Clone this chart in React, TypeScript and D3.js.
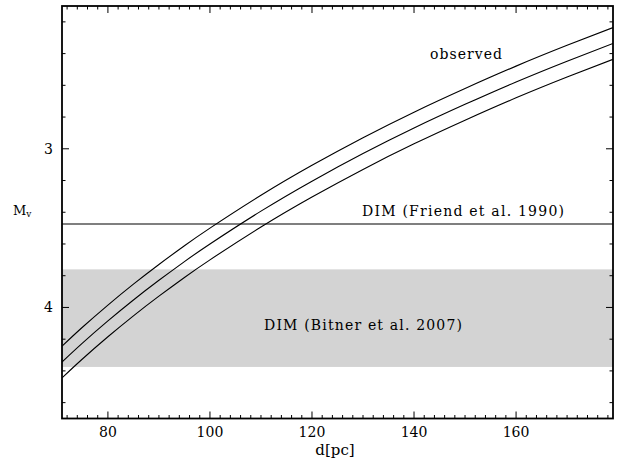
import React from "react";
import * as d3 from "d3";

const distances = [71, 75, 80, 85, 90, 95, 100, 110, 120, 130, 140, 150, 160, 170, 179];
const curveUpper = [4.244, 4.125, 3.985, 3.853, 3.729, 3.611, 3.5, 3.293, 3.104, 2.93, 2.769, 2.62, 2.479, 2.348, 2.236];
const curveMiddle = [4.344, 4.225, 4.085, 3.953, 3.829, 3.711, 3.6, 3.393, 3.204, 3.03, 2.869, 2.72, 2.579, 2.448, 2.336];
const curveLower = [4.444, 4.325, 4.185, 4.053, 3.929, 3.811, 3.7, 3.493, 3.304, 3.13, 2.969, 2.82, 2.679, 2.548, 2.436];
const friendLevel = 3.474;
const bitnerBand = [3.76, 4.375];
const xMajorTicks = [80, 100, 120, 140, 160];
const yMajorTicks = [3, 4];

const W = 627;
const H = 461;
const L = 62, R = 613, T = 6, B = 418.5;

export default function App() {
  const x = d3.scaleLinear().domain([71, 179]).range([L, R]);
  const y = d3.scaleLinear().domain([2.1, 4.7]).range([T, B]);
  const line = d3
    .line<number>()
    .x((_, i) => x(distances[i]))
    .y((v) => y(v))
    .curve(d3.curveNatural);

  const xMinor = d3.range(72, 179.01, 2).filter((v) => !xMajorTicks.includes(v));
  const yMinor = d3.range(22, 47, 2).map((v) => v / 10).filter((v) => !yMajorTicks.includes(v));
  const font = "'DejaVu Serif', 'Liberation Serif', serif";

  return (
    <svg width={W} height={H} style={{ position: "absolute", left: 0, top: 0, background: "#fff" }} fontFamily={font}>
      <defs>
        <clipPath id="plot">
          <rect x={L} y={T} width={R - L} height={B - T} />
        </clipPath>
      </defs>
      <rect x={L} y={y(bitnerBand[0])} width={R - L} height={y(bitnerBand[1]) - y(bitnerBand[0])} fill="#d3d3d3" />
      <line x1={L} x2={R} y1={y(friendLevel)} y2={y(friendLevel)} stroke="#000" strokeWidth={1.1} />
      <g clipPath="url(#plot)">
        {[curveUpper, curveMiddle, curveLower].map((c, i) => (
          <path key={i} d={line(c) || ""} fill="none" stroke="#000" strokeWidth={1.1} />
        ))}
      </g>
      {xMajorTicks.map((v) => (
        <g key={"xm" + v}>
          <line x1={x(v)} x2={x(v)} y1={B} y2={B - 7} stroke="#000" strokeWidth={1} />
          <line x1={x(v)} x2={x(v)} y1={T} y2={T + 7} stroke="#000" strokeWidth={1} />
          <text x={x(v)} y={437} textAnchor="middle" fontSize={14}>{v}</text>
        </g>
      ))}
      {xMinor.map((v) => (
        <g key={"xn" + v}>
          <line x1={x(v)} x2={x(v)} y1={B} y2={B - 3.5} stroke="#000" strokeWidth={1} />
          <line x1={x(v)} x2={x(v)} y1={T} y2={T + 3.5} stroke="#000" strokeWidth={1} />
        </g>
      ))}
      {yMajorTicks.map((v) => (
        <g key={"ym" + v}>
          <line x1={L} x2={L + 7} y1={y(v)} y2={y(v)} stroke="#000" strokeWidth={1} />
          <line x1={R} x2={R - 7} y1={y(v)} y2={y(v)} stroke="#000" strokeWidth={1} />
          <text x={53} y={y(v) + 5} textAnchor="end" fontSize={14}>{v}</text>
        </g>
      ))}
      {yMinor.map((v) => (
        <g key={"yn" + v}>
          <line x1={L} x2={L + 3.5} y1={y(v)} y2={y(v)} stroke="#000" strokeWidth={1} />
          <line x1={R} x2={R - 3.5} y1={y(v)} y2={y(v)} stroke="#000" strokeWidth={1} />
        </g>
      ))}
      <rect x={L} y={T} width={R - L} height={B - T} fill="none" stroke="#000" strokeWidth={1.8} />
      <text x={335} y={455} textAnchor="middle" fontSize={15}>d[pc]</text>
      <text x={13} y={215} fontSize={13}>
        M<tspan fontSize={9} dy={2}>v</tspan>
      </text>
      <text x={430} y={59} fontSize={14} textLength={72} lengthAdjust="spacing">observed</text>
      <text x={362} y={216} fontSize={14} textLength={202} lengthAdjust="spacing">DIM (Friend et al. 1990)</text>
      <text x={264} y={330} fontSize={14} textLength={198} lengthAdjust="spacing">DIM (Bitner et al. 2007)</text>
    </svg>
  );
}
